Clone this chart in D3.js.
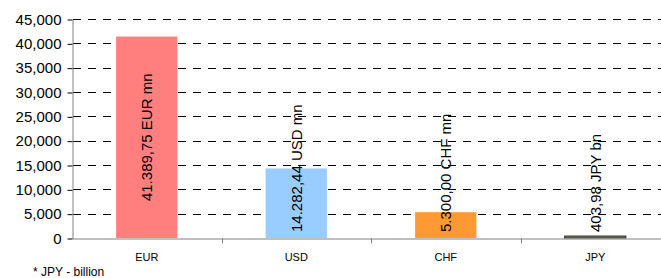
<!DOCTYPE html>
<html>
<head>
<meta charset="utf-8">
<script src="https://cdn.jsdelivr.net/npm/d3@7"></script>
<style>
  html, body { margin: 0; padding: 0; background: #fff; }
  svg { display: block; font-family: "Liberation Sans", Arial, sans-serif; }
</style>
</head>
<body>
<div class="chart"></div>
<script>
// data
var categories = ['EUR', 'USD', 'CHF', 'JPY'];
var values = [41389.75, 14282.44, 5300.00, 403.98];
var valueLabels = ['41.389,75 EUR mn', '14.282,44 USD mn', '5.300,00 CHF mn', '403,98 JPY bn'];
var yTickValues = [0, 5000, 10000, 15000, 20000, 25000, 30000, 35000, 40000, 45000];
var footnote = '* JPY - billion';

var barColors = ['#ff7f7f', '#99ccff', '#ff9933', '#808060'];

var chartW = 661, chartH = 278;
var plotLeft = 72, plotRight = 670, plotTop = 19, plotBottom = 238;

var svg = d3.select('.chart')
  .append('svg')
  .attr('width', chartW)
  .attr('height', chartH);

var x = d3.scaleBand().domain(categories).range([plotLeft, plotRight]).padding(0);
var y = d3.scaleLinear().domain([0, 45000]).range([plotBottom, plotTop]);

// gridlines
svg.append('g')
  .selectAll('line')
  .data(yTickValues.filter(function(d){ return d > 0; }))
  .join('line')
  .attr('x1', plotLeft)
  .attr('x2', chartW)
  .attr('y1', function(d){ return Math.round(y(d)) + 0.5; })
  .attr('y2', function(d){ return Math.round(y(d)) + 0.5; })
  .attr('stroke', '#000')
  .attr('stroke-dasharray', '8,7')
  .attr('stroke-dashoffset', -1);

// bars
var barW = x.bandwidth() * 0.41;
svg.append('g')
  .selectAll('rect')
  .data(values)
  .join('rect')
  .attr('x', function(d, i){ return x(categories[i]) + (x.bandwidth() - barW) / 2; })
  .attr('y', function(d){ return y(d); })
  .attr('width', barW)
  .attr('height', function(d){ return plotBottom - y(d); })
  .attr('fill', function(d, i){ return barColors[i]; })
  .attr('stroke', function(d, i){ return i == 3 ? '#333' : 'none'; })
  .attr('stroke-width', 1);

// y axis
var yAxis = d3.axisLeft(y)
  .tickValues(yTickValues)
  .tickFormat(d3.format(','))
  .tickSizeInner(5)
  .tickSizeOuter(0)
  .tickPadding(6);
var gy = svg.append('g')
  .attr('transform', 'translate(' + (plotLeft + 0.5) + ',0.5)')
  .call(yAxis);
gy.select('.domain').attr('stroke', '#808080');
gy.selectAll('.tick line').attr('stroke', '#000');
gy.selectAll('.tick text')
  .attr('font-size', 15)
  .attr('font-family', '"Liberation Sans", Arial, sans-serif')
  .attr('fill', '#000');

// x axis
var xAxis = d3.axisBottom(x).tickSize(0).tickPadding(15);
var gx = svg.append('g')
  .attr('transform', 'translate(0,' + (plotBottom + 0.5) + ')')
  .call(xAxis);
gx.select('.domain').attr('stroke', '#808080');
gx.selectAll('.tick text')
  .attr('font-size', 11)
  .attr('font-family', '"Liberation Sans", Arial, sans-serif')
  .attr('fill', '#000');
// category separators
gx.append('g')
  .selectAll('line')
  .data(categories.slice(1))
  .join('line')
  .attr('x1', function(d){ return Math.round(x(d)) + 0.5; })
  .attr('x2', function(d){ return Math.round(x(d)) + 0.5; })
  .attr('y1', 0)
  .attr('y2', 5)
  .attr('stroke', '#808080');

// rotated value labels
var labelG = svg.append('g');
values.forEach(function(v, i){
  var cx = x(categories[i]) + x.bandwidth() / 2;
  var t = labelG.append('text')
    .attr('font-size', 15)
    .attr('fill', '#000')
    .attr('dominant-baseline', 'central')
    .text(valueLabels[i]);
  var len = t.node().getComputedTextLength();
  var barTop = y(v);
  var mid = (barTop + plotBottom) / 2;
  var cy;
  if (plotBottom - barTop > len + 12) {
    cy = mid;
  } else {
    cy = plotBottom - 6 - len / 2;
  }
  t.attr('text-anchor', 'middle')
   .attr('transform', 'translate(' + cx + ',' + cy + ') rotate(-90)');
});

// footnote
svg.append('text')
  .attr('x', 33)
  .attr('y', 276)
  .attr('font-size', 12)
  .attr('fill', '#000')
  .text(footnote);
</script>
</body>
</html>
